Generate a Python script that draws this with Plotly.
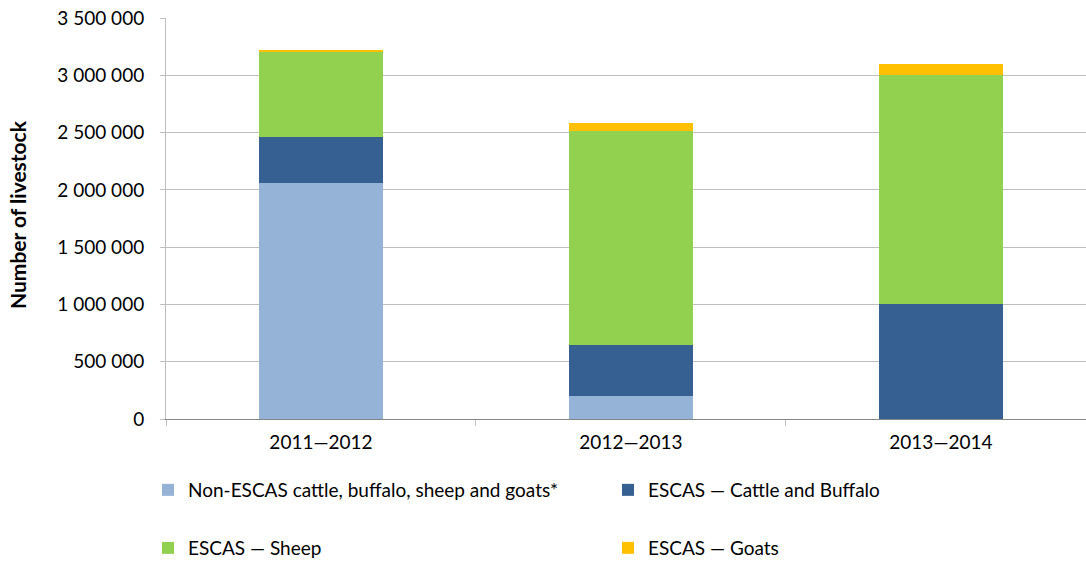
import plotly.graph_objects as go

categories = ["2011—2012", "2012—2013", "2013—2014"]
non_escas = [2056000, 205000, 0]
escas_cattle = [405000, 444000, 1000000]
escas_sheep = [740000, 1864000, 2003000]
escas_goats = [20000, 67000, 98000]

series_names = [
    "Non-ESCAS cattle, buffalo, sheep and goats*",
    "ESCAS — Cattle and Buffalo",
    "ESCAS — Sheep",
    "ESCAS — Goats",
]
colors = ["#95B3D7", "#366092", "#92D050", "#FFC000"]
values = [non_escas, escas_cattle, escas_sheep, escas_goats]
legend_ids = ["legend", "legend2", "legend3", "legend4"]

FONT = "Lato, 'Open Sans', sans-serif"

fig = go.Figure()
for name, col, vals, lg in zip(series_names, colors, values, legend_ids):
    fig.add_trace(go.Bar(
        x=categories, y=vals, name=name,
        marker=dict(color=col, line=dict(width=0)),
        legend=lg, showlegend=True,
        hovertemplate="%{x}<br>%{y:,d}<extra>" + name + "</extra>",
    ))

W, H = 1086, 561
ml, mr, mt, mb = 166, 0, 18, 142


def cx(px):
    return px / W


def cy(py):
    return 1 - py / H


leg_common = dict(
    font=dict(family=FONT, size=19, color="#000000"),
    bgcolor="rgba(0,0,0,0)",
    xanchor="left", yanchor="middle",
    xref="container", yref="container",
    borderwidth=0,
)

fig.update_layout(
    width=W, height=H,
    margin=dict(l=ml, r=mr, t=mt, b=mb, autoexpand=False),
    barmode="stack",
    bargap=0.6,
    showlegend=True,
    plot_bgcolor="white",
    paper_bgcolor="white",
    separators=". ",
    font=dict(family=FONT, size=19, color="#000000"),
    legend=dict(x=cx(148), y=cy(490), **leg_common),
    legend2=dict(x=cx(608), y=cy(490), **leg_common),
    legend3=dict(x=cx(148), y=cy(548), **leg_common),
    legend4=dict(x=cx(608), y=cy(548), **leg_common),
    xaxis=dict(
        type="category",
        range=[-0.5, 2.468],
        tickson="boundaries",
        ticks="outside", ticklen=6, tickcolor="#BFBFBF", tickwidth=1,
        showline=True, linecolor="#868686", linewidth=1,
        showgrid=False,
        tickfont=dict(family=FONT, size=19, color="#000000"),
        ticklabelstandoff=6,
    ),
    yaxis=dict(
        range=[0, 3500000],
        dtick=500000,
        tickformat=",d",
        ticks="outside", ticklen=5, tickcolor="#BFBFBF", tickwidth=1,
        showline=True, linecolor="#BFBFBF", linewidth=1,
        showgrid=True, gridcolor="#BFBFBF", gridwidth=1,
        zeroline=False,
        tickfont=dict(family=FONT, size=19, color="#000000"),
        ticklabelstandoff=12,
    ),
    annotations=[dict(
        text="<b>Number of livestock</b>",
        xref="paper", yref="paper",
        x=(17 - ml) / (W - ml - mr), y=(H - mb - 215) / (H - mt - mb),
        xanchor="center", yanchor="middle",
        textangle=-90, showarrow=False,
        font=dict(family=FONT, size=21, color="#000000"),
    )],
)

fig.write_html("out.html")
